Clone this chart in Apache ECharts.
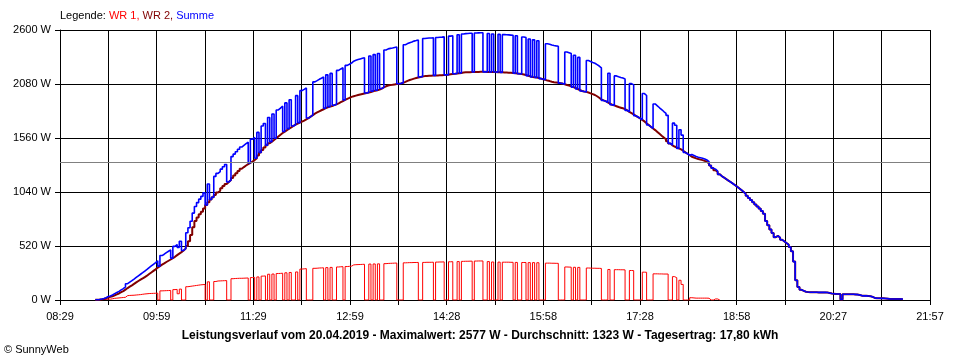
<!DOCTYPE html>
<html><head><meta charset="utf-8">
<script src="https://cdn.jsdelivr.net/npm/echarts@6/dist/echarts.min.js"></script>
<style>html,body{margin:0;padding:0;background:#fff}#c{width:960px;height:360px}</style>
</head><body><div id="c"></div>
<script>
// Axis definition (time of day in minutes after midnight)
const X_TICK_LABELS = ['08:29','','09:59','','11:29','','12:59','','14:28','','15:58','','17:28','','18:58','','20:27','','21:57'];
const AXIS_START_MIN = 509.2;   // 08:29
const AXIS_END_MIN = 1317.2;    // 21:57
const X_GRID_STEPS = 18;
const Y_MAX = 2600;
const Y_STEP = 520;

// Samples every 2 minutes starting 09:02
const SAMPLE_START_MIN = 542;
const SAMPLE_STEP_MIN = 2;

// WR 1 (red) in W
const WR1 = [
0,0,3,5,5,8,8,12,16,18,
20,22,24,26,42,44,45,46,48,50,
52,55,58,60,62,63,64,65,66,0,
88,89,90,91,92,0,100,102,60,105,
0,0,128,131,134,137,140,143,146,148,
150,0,175,0,0,178,183,184,185,186,
187,0,0,205,207,208,209,209,210,211,
212,0,216,218,0,222,0,230,232,0,
248,0,250,0,255,256,258,0,262,0,
265,0,0,270,0,298,300,302,0,0,
0,305,306,308,309,310,0,312,0,314,
0,0,318,320,321,0,322,324,326,338,
340,341,342,343,344,0,0,346,0,347,
0,348,0,0,350,352,353,354,355,356,
0,0,0,358,359,360,360,361,361,362,
0,0,362,363,363,363,364,0,365,366,
366,367,0,0,368,369,0,0,370,0,
372,373,373,374,374,0,375,376,376,376,
0,0,370,0,366,0,0,365,0,364,
364,364,363,363,0,362,0,0,361,361,
0,360,0,360,0,359,0,0,0,355,
355,354,354,353,353,0,0,0,318,317,
316,0,315,0,314,0,0,0,308,307,
306,306,305,305,304,0,0,0,294,0,
0,292,292,291,291,290,0,0,284,283,
0,0,0,0,268,267,0,0,0,252,
252,251,251,250,250,250,0,0,225,215,
0,190,150,0,0,0,22,20,18,18,
18,18,18,18,17,0,0,10,10,0,
0
];

// WR 2 (dark red) in W
const WR2 = [
3,4,6,10,17,25,30,36,45,54,
63,75,86,100,115,128,141,155,169,183,
196,208,221,234,250,265,280,295,312,326,
340,352,366,378,390,403,416,432,447,461,
477,496,520,565,625,700,760,795,825,850,
882,915,942,968,990,1012,1036,1053,1075,1097,
1118,1137,1155,1176,1198,1220,1242,1264,1280,1295,
1308,1320,1333,1347,1365,1392,1420,1445,1468,1490,
1510,1525,1541,1557,1575,1592,1608,1622,1636,1650,
1663,1676,1688,1698,1708,1718,1728,1740,1752,1766,
1780,1795,1806,1817,1827,1837,1847,1856,1862,1868,
1876,1884,1893,1905,1916,1927,1937,1946,1956,1962,
1968,1974,1979,1984,1989,1993,1998,2003,2010,2016,
2020,2026,2036,2048,2058,2066,2070,2072,2076,2080,
2083,2086,2092,2100,2110,2118,2125,2132,2137,2142,
2147,2152,2156,2158,2160,2160,2161,2162,2163,2164,
2165,2167,2168,2170,2173,2176,2178,2181,2184,2187,
2190,2192,2193,2194,2195,2196,2196,2196,2197,2197,
2197,2196,2196,2196,2195,2195,2194,2193,2192,2191,
2190,2189,2188,2186,2184,2182,2179,2176,2172,2166,
2160,2154,2148,2145,2142,2138,2132,2126,2120,2113,
2108,2102,2097,2094,2091,2088,2084,2077,2070,2064,
2057,2050,2042,2032,2022,2013,2008,2004,1998,1990,
1982,1974,1962,1948,1932,1922,1915,1902,1890,1880,
1874,1866,1858,1852,1846,1838,1826,1812,1800,1788,
1774,1762,1750,1735,1720,1702,1685,1668,1652,1636,
1618,1600,1582,1565,1548,1528,1508,1490,1478,1468,
1460,1450,1438,1422,1408,1394,1380,1372,1364,1357,
1352,1347,1340,1330,1316,1295,1270,1250,1232,1210,
1192,1178,1164,1150,1136,1122,1107,1092,1076,1060,
1042,1024,1004,983,962,942,920,900,880,858,
830,760,720,680,645,605,618,600,580,564,
548,532,510,470,370,190,125,98,88,80,
77,75,74,74,74,73,73,73,73,72,
68,62,60,58,58,58,5,56,56,56,
55,55,54,52,48,42,40,40,38,36,
30,20,18,17,16,16,15,13,10,10,
10,10,9,9,8,8
];

const AVERAGE_W = 1323;
const LEGEND_PARTS = ['Legende:', 'WR 1,', 'WR 2,', 'Summe'];
const FOOTER = 'Leistungsverlauf vom 20.04.2019 - Maximalwert: 2577 W - Durchschnitt: 1323 W - Tagesertrag: 17,80 kWh';
const COPYRIGHT = '\u00a9 SunnyWeb';

// Summe = WR 1 + WR 2
const SUMME = WR2.map((v, i) => v + (WR1[i] || 0));

const minutesPerGridStep = (AXIS_END_MIN - AXIS_START_MIN) / X_GRID_STEPS;
function toAxis(i) {
  const t = SAMPLE_START_MIN + SAMPLE_STEP_MIN * i;
  return (t - AXIS_START_MIN) / minutesPerGridStep;
}
const pairs = arr => arr.map((v, i) => [toAxis(i), v]);

const FONT = '"Liberation Sans", Arial, sans-serif';
const chart = echarts.init(document.getElementById('c'), null, {renderer: 'canvas'});
chart.setOption({
  animation: false,
  backgroundColor: '#ffffff',
  title: [
    {
      text: '{k|' + LEGEND_PARTS[0] + ' }{a|' + LEGEND_PARTS[1] + ' }{b|' + LEGEND_PARTS[2] + ' }{c|' + LEGEND_PARTS[3] + '}',
      left: 60, top: 10, padding: 0,
      textStyle: {
        fontFamily: FONT, fontSize: 11, fontWeight: 'normal',
        rich: {
          k: {color: '#000000', fontFamily: FONT, fontSize: 11},
          a: {color: '#ff0000', fontFamily: FONT, fontSize: 11},
          b: {color: '#800000', fontFamily: FONT, fontSize: 11},
          c: {color: '#0000ff', fontFamily: FONT, fontSize: 11}
        }
      }
    },
    {
      text: FOOTER, left: 'center', top: 330, padding: 0,
      textStyle: {fontFamily: FONT, fontSize: 12, fontWeight: 'bold', color: '#000000'}
    },
    {
      text: COPYRIGHT, left: 4, top: 344, padding: 0,
      textStyle: {fontFamily: FONT, fontSize: 11, fontWeight: 'normal', color: '#000000'}
    }
  ],
  grid: {left: 60, right: 30, top: 30, bottom: 60, containLabel: false},
  xAxis: {
    type: 'value', min: 0, max: X_GRID_STEPS, interval: 1,
    axisLine: {show: true, lineStyle: {color: '#000000', width: 1}},
    axisTick: {show: true, length: 5, lineStyle: {color: '#000000', width: 1}},
    splitLine: {show: true, lineStyle: {color: '#000000', width: 1}},
    axisLabel: {
      show: true, margin: 11, color: '#000000', fontFamily: FONT, fontSize: 11,
      showMinLabel: true, showMaxLabel: true, hideOverlap: false,
      formatter: v => X_TICK_LABELS[Math.round(v)] || ''
    }
  },
  yAxis: {
    type: 'value', min: 0, max: Y_MAX, interval: Y_STEP,
    axisLine: {show: true, lineStyle: {color: '#000000', width: 1}},
    axisTick: {show: true, length: 5, lineStyle: {color: '#000000', width: 1}},
    splitLine: {show: true, lineStyle: {color: '#000000', width: 1}},
    axisLabel: {
      show: true, margin: 9, color: '#000000', fontFamily: FONT, fontSize: 11,
      formatter: v => v + ' W'
    }
  },
  series: [
    {
      name: 'WR 1', type: 'line', step: 'end', data: pairs(WR1),
      showSymbol: false, symbol: 'none', silent: true, z: 2,
      lineStyle: {color: '#ff0000', width: 1}, itemStyle: {color: '#ff0000'},
      markLine: {
        silent: true, symbol: ['none', 'none'], label: {show: false},
        lineStyle: {color: '#808080', width: 1, type: 'solid'},
        emphasis: {disabled: true},
        data: [{yAxis: AVERAGE_W}]
      }
    },
    {
      name: 'WR 2', type: 'line', step: 'end', data: pairs(WR2),
      showSymbol: false, symbol: 'none', silent: true, z: 3,
      lineStyle: {color: '#800000', width: 2}, itemStyle: {color: '#800000'}
    },
    {
      name: 'Summe', type: 'line', step: 'end', data: pairs(SUMME),
      showSymbol: false, symbol: 'none', silent: true, z: 4,
      lineStyle: {color: '#0000ff', width: 1.6}, itemStyle: {color: '#0000ff'}
    }
  ]
});
</script>
</body></html>
